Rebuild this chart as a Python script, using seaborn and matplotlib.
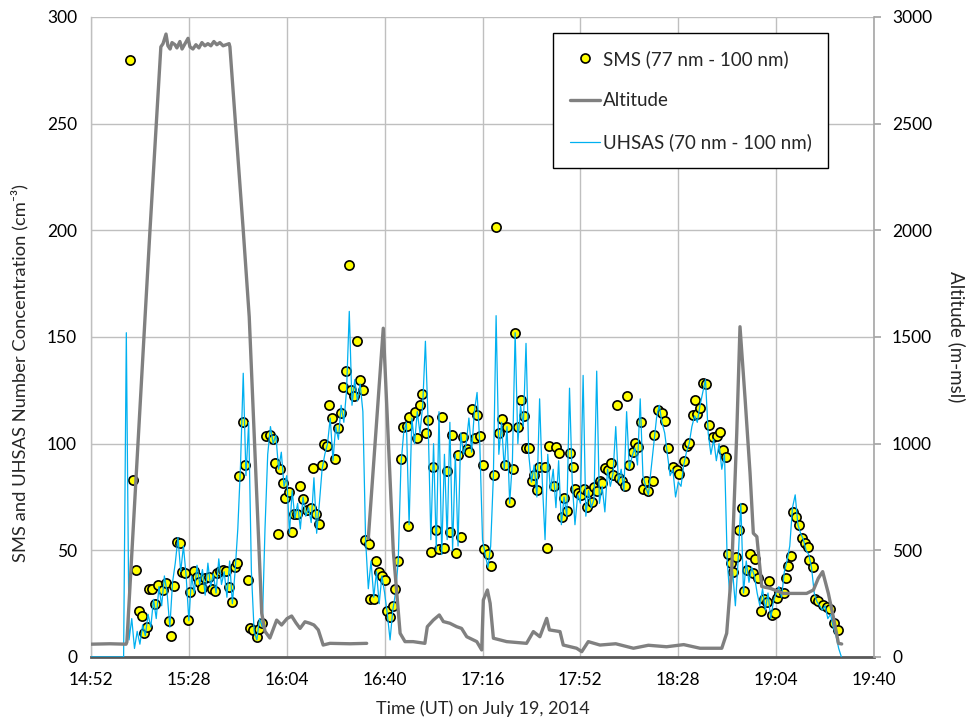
import numpy as np
import pandas as pd
import matplotlib
matplotlib.use("Agg")
import matplotlib.pyplot as plt
import seaborn as sns
from matplotlib.lines import Line2D

# ---------------- data (time = minutes after 14:52 UT) ----------------
tick_minutes = [0, 36, 72, 108, 144, 180, 216, 252, 288]
tick_labels = ["14:52", "15:28", "16:04", "16:40", "17:16", "17:52", "18:28", "19:04", "19:40"]
conc_ticks = [0, 50, 100, 150, 200, 250, 300]
alt_ticks = [0, 500, 1000, 1500, 2000, 2500, 3000]

sms_minutes = [
    14.3, 15.3, 16.6, 17.7, 18.6, 19.5, 20.7, 21.4, 22.4, 23.7, 24.8, 26.6, 27.6, 28.8, 29.5,
    30.5, 31.5, 32.7, 33.4, 34.7, 35.7, 36.4, 38.0, 38.9, 39.8, 40.7, 41.9, 43.3, 44.4, 45.7,
    46.5, 47.4, 48.7, 49.7, 50.9, 51.9, 52.9, 53.7, 54.5, 55.8, 56.8, 57.6, 58.5, 59.7, 60.9,
    61.9, 62.8, 64.4, 65.8, 67.1, 67.7, 68.7, 69.5, 70.7, 71.4, 72.8, 73.8, 74.8, 75.9, 76.9,
    77.9, 79.3, 80.9, 81.8, 82.8, 84.0, 84.9, 85.6, 86.7, 87.6, 88.6, 89.9, 90.7, 92.0, 92.7,
    93.8, 94.9, 95.6, 96.7, 97.8, 98.9, 100.0, 100.9, 102.1, 102.7, 104.0, 104.9, 105.8, 106.9,
    108.1, 108.8, 110.0, 111.2, 111.8, 112.8, 113.9, 114.6, 116.1, 116.5, 117.1, 119.2, 120.0,
    121.0, 121.9, 123.1, 124.1, 124.9, 125.9, 126.9, 128.1, 129.0, 129.9, 131.1, 132.0, 132.9,
    134.1, 135.0, 136.1, 136.9, 138.2, 139.1, 140.0, 141.1, 142.1, 143.1, 144.1, 144.7, 146.1,
    147.0, 148.1, 149.0, 150.1, 151.1, 152.2, 153.0, 154.1, 155.2, 156.1, 156.9, 158.2, 159.2,
    160.0, 161.2, 162.1, 163.0, 163.9, 164.9, 167.0, 167.8, 168.6, 171.0, 170.3, 172.1, 173.1,
    174.0, 175.0, 176.2, 177.2, 178.0, 179.2, 180.1, 181.3, 182.3, 182.9, 184.2, 185.0, 186.2,
    187.2, 188.1, 189.1, 190.3, 191.2, 192.1, 193.4, 194.3, 195.2, 196.4, 197.3, 198.0, 199.2,
    200.1, 201.3, 202.2, 203.1, 204.1, 205.0, 206.6, 207.2, 208.7, 209.9, 211.1, 212.3, 214.2,
    215.4, 216.4, 218.2, 219.1, 220.1, 221.3, 222.2, 223.0, 224.0, 225.2, 226.2, 227.4, 228.7,
    230.1, 231.4, 232.6, 233.6, 234.4, 235.4, 236.2, 237.2, 238.3, 239.3, 240.2, 241.4, 242.4,
    243.6, 244.2, 245.4, 246.4, 247.5, 248.7, 249.5, 250.4, 251.6, 252.4, 253.2, 254.9, 255.6,
    256.3, 257.4, 258.3, 259.3, 260.5, 261.4, 262.6, 263.8, 264.2, 265.4, 266.3, 267.5, 269.1,
    270.6, 271.8, 273.3, 274.9]
sms_values = [
    280, 83, 41, 21.7, 19, 11.2, 14.2, 31.9, 31.7, 24.8, 33.6, 31.4, 34.8, 17, 9.8,
    33.3, 54, 53.3, 40, 39.5, 17.3, 30.3, 40.3, 37.6, 35.3, 32.2, 36.9, 37.6, 31.7, 30.8,
    39.5, 40.3, 40.8, 40.5, 32.7, 25.6, 42, 43.9, 85, 110.3, 89.8, 36, 13.4, 12.7, 9.5,
    13, 15.8, 103.6, 104, 102, 90.8, 57.7, 88, 81.4, 74.4, 77.5, 58.6, 66.9, 67, 80.3,
    73.9, 68.9, 70, 88.6, 66.9, 62.2, 89.8, 99.7, 98.9, 118, 111.9, 92.8, 107.5, 114.5, 126.7,
    134.2, 183.8, 125.2, 122.3, 148.3, 129.8, 125.2, 54.8, 53, 27.3, 27.2, 44.8, 40, 38.1,
    36.1, 21.6, 18.7, 23.9, 31.7, 44.8, 92.7, 108, 108.4, 61.4, 112.6, 115, 102.6,
    118, 123.3, 104.8, 111, 49.2, 89.2, 59.7, 50.5, 112.5, 51.1, 87, 58.4, 104,
    48.6, 94.8, 56.4, 103, 97.3, 96.2, 116.2, 102.5, 113.4, 103.4, 90.2, 50.5, 48.1,
    42.8, 85.2, 201.6, 105, 111.6, 90, 107.8, 72.8, 88, 152, 108, 120.5, 113,
    98, 98, 82.4, 85.3, 78.3, 89.2, 89.2, 51.2, 98.9, 98.3, 80.2, 95.8, 65.5,
    74.4, 68.6, 95.5, 88.9, 78.6, 76.7, 75.9, 78.6, 70.5, 77.5, 72.8, 79.5, 78,
    82.7, 81.4, 88.4, 87.7, 90.8, 85.3, 118.1, 83.8, 82.7, 80.2, 122.3, 90, 96.3,
    100.5, 98.3, 110.2, 78.6, 82.7, 78, 82.7, 104, 115.8, 114.5, 110.8, 97.8, 88.9,
    87.7, 85.8, 91.9, 98.9, 100.2, 113.4, 120.5, 113.9, 116.6, 128.3, 128, 108.8, 103.3,
    103.6, 105.6, 97, 93.9, 48.3, 44.2, 40, 47, 59.5, 69.7, 31.1, 40.8, 48.3,
    39.5, 45.8, 36.9, 21.7, 27, 25.9, 35.6, 19.7, 20.8, 27.7, 30.6, 29.8, 36.9,
    42.7, 47.3, 68.1, 65.8, 61.9, 55.9, 53.6, 51.7, 45.5, 42, 27, 26.4, 24.4,
    23.6, 22.3, 15.8, 12.7]

# UHSAS concentration, one reading per minute from 14:52
uhsas_values = [
    0, 0, 0, 0, 0, 0, 0, 0, 0, 0, 0, 0, 0, 152, 8, 18, 4, 12, 6, 15,
    10, 20, 14, 27, 18, 33, 24, 38, 30, 14, 35, 44, 56, 40, 52, 38, 17, 38, 30, 43,
    34, 41, 29, 44, 33, 39, 30, 46, 34, 40, 28, 45, 25, 40, 60, 90, 133, 85, 110, 40,
    12, 8, 18, 14, 60, 95, 108, 100, 104, 88, 96, 80, 85, 58, 78, 65, 72, 60, 75, 66,
    70, 63, 84, 58, 72, 88, 95, 100, 112, 92, 108, 102, 118, 110, 125, 162, 118, 130, 120, 128,
    115, 55, 32, 45, 28, 40, 25, 38, 30, 20, 8, 22, 30, 45, 90, 105, 110, 62, 112, 100,
    115, 105, 118, 148, 110, 55, 100, 50, 115, 48, 95, 55, 110, 50, 95, 52, 105, 95, 100, 112,
    96, 115, 124, 100, 55, 48, 42, 52, 85, 160, 95, 110, 88, 108, 72, 92, 152, 100, 118, 108,
    147, 95, 82, 90, 75, 121, 82, 55, 95, 78, 88, 70, 92, 62, 75, 66, 126, 82, 62, 76,
    72, 132, 66, 78, 70, 74, 134, 72, 80, 68, 88, 80, 86, 108, 82, 88, 78, 115, 88, 94,
    98, 90, 121, 85, 80, 76, 88, 100, 112, 118, 110, 105, 95, 85, 88, 75, 82, 80, 90, 96,
    100, 108, 113, 110, 118, 124, 130, 105, 95, 102, 92, 100, 88, 95, 45, 28, 40, 24, 45, 72,
    30, 45, 35, 42, 38, 30, 24, 32, 22, 30, 18, 26, 30, 33, 28, 40, 45, 52, 70, 76,
    62, 58, 55, 50, 48, 42, 30, 26, 24, 22, 24, 18, 20, 14, 10, 4, 0]
uhsas_minutes = list(range(len(uhsas_values)))

# Altitude (m-msl); NaN marks a gap in the record
alt_minutes = [
    0, 7.0, 12.9, 13.2, 19.9, 21.7, 25.7, 26.5, 27.6, 28.3, 29.1, 29.8, 30.9, 31.6, 32.7,
    33.5, 34.6, 35.7, 36.4, 37.5, 38.6, 39.7, 40.8, 41.9, 43.0, 44.1, 45.2, 46.3, 47.4, 48.6,
    49.7, 50.8, 51.1, 56.0, 58.2, 62.8, 64.0, 65.8, 68.3, 70.1, 72.1, 73.8, 75.4, 76.9, 78.7,
    80.5, 82.0, 83.6, 85.4, 87.9, 95.3, 101.4, 101.7, 102.0, 107.5, 111.2, 113.7, 115.5, 118.5,
    122.8, 123.7, 125.9, 128.1, 129.6, 132.0, 134.5, 136.3, 138.2, 141.9, 143.7, 144.3, 145.8,
    146.8, 148.0, 152.9, 160.2, 162.7, 165.1, 167.6, 168.6, 172.5, 173.7, 178.6, 180.5, 182.9,
    187.2, 193.0, 199.5, 205.0, 211.7, 218.0, 224.0, 232.0, 233.8, 235.7, 237.5, 238.7, 240.6,
    242.4, 243.6, 244.9, 246.7, 249.8, 254.6, 259.6, 263.2, 265.7, 267.5, 269.1, 271.2, 273.0,
    274.9, 276.1]
alt_values = [
    60, 62, 60, 70, 1595, 2000, 2860, 2875, 2920, 2865, 2850, 2880, 2870, 2855, 2885,
    2850, 2875, 2900, 2860, 2850, 2870, 2855, 2880, 2865, 2875, 2865, 2885, 2870, 2880, 2865,
    2870, 2875, 2860, 2000, 1595, 205, 120, 89, 173, 150, 180, 192, 160, 134, 165,
    158, 150, 127, 56, 64, 62, 64, np.nan, 556, 1541, 494, 111, 72, 72,
    64, 142, 173, 197, 166, 158, 142, 134, 95, 72, 33, 267, 314,
    252, 88, 72, 64, 119, 95, 181, 127, 119, 56, 41, 25, 72,
    56, 62, 41, 55, 48, 58, 41, 41, 111, 423, 1048, 1548, 1205,
    861, 580, 564, 330, 322, 298, 298, 298, 314, 369, 400, 298, 189,
    64, 61]

# ---------------- frames ----------------
sms_df = pd.DataFrame({"minute": sms_minutes, "conc": sms_values})
uhsas_df = pd.DataFrame({"minute": uhsas_minutes, "conc": uhsas_values})
alt_df = pd.DataFrame({"minute": alt_minutes, "alt": alt_values})
alt_df["seg"] = alt_df["alt"].isna().cumsum()
alt_df = alt_df.dropna()

# ---------------- style ----------------
sns.set_theme(style="white")
plt.rcParams['font.family'] = ['Lato', 'DejaVu Sans']
text_color = "#000000"

fig = plt.figure(figsize=(9.73, 7.23), dpi=100)
ax = fig.add_axes([0.0935, 0.0913, 0.8048, 0.8852])

blue = "#00b0f0"
grey = "#808080"

sns.scatterplot(data=sms_df, x="minute", y="conc", ax=ax, color="#ffff00",
                edgecolor="black", linewidth=1.2, s=44, zorder=3, legend=False)
sns.lineplot(data=uhsas_df, x="minute", y="conc", ax=ax, color=blue, linewidth=0.9,
             estimator=None, sort=False, zorder=4, legend=False)

ax.set_xlim(0, 288)
ax.set_ylim(0, 300)
ax.set_xticks(tick_minutes)
ax.set_xticklabels(tick_labels)
ax.set_yticks(conc_ticks)
ax.grid(True, color="#bfbfbf", linewidth=1)
ax.set_axisbelow(True)
ax.tick_params(axis="both", length=0, labelsize=12.5, colors=text_color)
ax.tick_params(axis="y", pad=10)
ax.tick_params(axis="x", pad=11)
ax.spines["top"].set_visible(False)
ax.spines["left"].set_color("#bfbfbf")
ax.spines["left"].set_linewidth(1)
ax.spines["right"].set_visible(False)
ax.spines["bottom"].set_color("#595959")
ax.spines["bottom"].set_linewidth(2)
ax.set_xlabel("Time (UT) on July 19, 2014", fontsize=13, labelpad=9)
ax.set_ylabel("SMS and UHSAS Number Concentration (cm⁻³)", fontsize=13.2)
ax.yaxis.set_label_coords(-0.080, 0.444)

ax2 = ax.twinx()
sns.lineplot(data=alt_df, x="minute", y="alt", units="seg", estimator=None, sort=False,
             ax=ax2, color=grey, linewidth=2.4, legend=False)
ax2.set_ylim(0, 3000)
ax2.set_yticks(alt_ticks)
ax2.grid(False)
ax2.tick_params(axis="y", length=5, labelsize=12.5, pad=8, colors=text_color)
ax2.tick_params(axis="y", color="#a6a6a6")
for side in ["top", "left", "bottom"]:
    ax2.spines[side].set_visible(False)
ax2.spines["right"].set_color("#a6a6a6")
ax2.spines["right"].set_linewidth(1.2)
ax2.set_ylabel("Altitude (m-msl)", fontsize=13.5, rotation=270, labelpad=24)

handles = [
    Line2D([], [], linestyle="none", marker="o", markersize=6.5, markerfacecolor="#ffff00",
           markeredgecolor="black", markeredgewidth=1.2),
    Line2D([], [], color=grey, linewidth=2.4),
    Line2D([], [], color=blue, linewidth=0.9),
]
labels = ["SMS (77 nm - 100 nm)", "Altitude", "UHSAS (70 nm - 100 nm)"]
leg = ax2.legend(handles, labels, loc="upper left", bbox_to_anchor=(0.590, 0.975),
                 borderaxespad=0, frameon=True, fancybox=False, edgecolor="black",
                 framealpha=1, fontsize=13.5, labelspacing=1.3, handlelength=1.6,
                 handletextpad=0.15, borderpad=0.9)
leg.get_frame().set_linewidth(1)

fig.savefig("out.png", dpi=100)
